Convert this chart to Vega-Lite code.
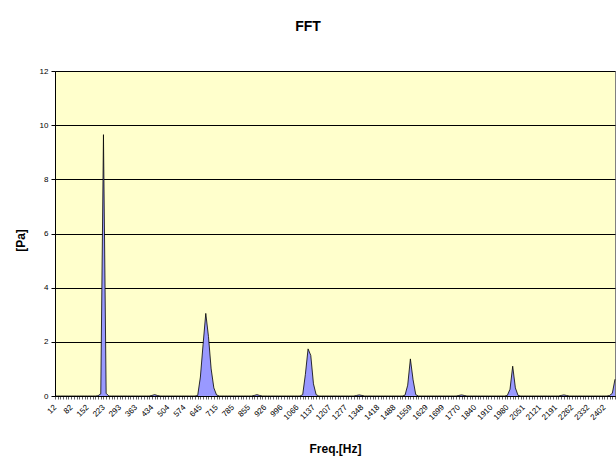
{
  "$schema": "https://vega.github.io/schema/vega-lite/v6.json",
  "autosize": {"type": "none"},
  "width": 560,
  "height": 325,
  "padding": {"left": 55, "top": 71, "right": 1, "bottom": 62},
  "background": "white",
  "config": {
    "font": "Liberation Sans",
    "view": {"fill": "#FFFFCC", "stroke": "#808080", "strokeWidth": 1}
  },
  "title": {
    "text": "FFT",
    "anchor": "middle",
    "frame": "group",
    "dx": -27,
    "offset": 33,
    "fontSize": 14,
    "fontWeight": "bold",
    "font": "Liberation Sans",
    "color": "black"
  },
  "data": {
    "values": [
      {"f":12,"p":0},{"f":23,"p":0},{"f":35,"p":0},{"f":47,"p":0},{"f":59,"p":0},{"f":70,"p":0},{"f":82,"p":0},{"f":94,"p":0},{"f":105,"p":0},{"f":117,"p":0},
      {"f":129,"p":0},{"f":141,"p":0},{"f":152,"p":0},{"f":164,"p":0},{"f":176,"p":0},{"f":188,"p":0},{"f":199,"p":0.01},{"f":211,"p":0.08},{"f":223,"p":9.65},{"f":234,"p":0.1},
      {"f":246,"p":0},{"f":258,"p":0},{"f":270,"p":0},{"f":281,"p":0},{"f":293,"p":0},{"f":305,"p":0},{"f":316,"p":0},{"f":328,"p":0},{"f":340,"p":0},{"f":352,"p":0},
      {"f":363,"p":0},{"f":375,"p":0},{"f":387,"p":0},{"f":398,"p":0},{"f":410,"p":0},{"f":422,"p":0},{"f":434,"p":0.02},{"f":445,"p":0.05},{"f":457,"p":0.02},{"f":469,"p":0},
      {"f":480,"p":0},{"f":492,"p":0},{"f":504,"p":0},{"f":516,"p":0},{"f":527,"p":0},{"f":539,"p":0},{"f":551,"p":0},{"f":563,"p":0},{"f":574,"p":0},{"f":586,"p":0},
      {"f":598,"p":0},{"f":609,"p":0},{"f":621,"p":0},{"f":633,"p":0.02},{"f":645,"p":0.7},{"f":656,"p":1.9},{"f":668,"p":3.05},{"f":680,"p":2.2},{"f":691,"p":1.0},{"f":703,"p":0.3},
      {"f":715,"p":0.04},{"f":727,"p":0},{"f":738,"p":0},{"f":750,"p":0},{"f":762,"p":0},{"f":773,"p":0},{"f":785,"p":0},{"f":797,"p":0},{"f":809,"p":0},{"f":820,"p":0},
      {"f":832,"p":0},{"f":844,"p":0},{"f":855,"p":0},{"f":867,"p":0},{"f":879,"p":0.02},{"f":891,"p":0.05},{"f":902,"p":0.02},{"f":914,"p":0},{"f":926,"p":0},{"f":938,"p":0},
      {"f":949,"p":0},{"f":961,"p":0},{"f":973,"p":0},{"f":984,"p":0},{"f":996,"p":0},{"f":1008,"p":0},{"f":1020,"p":0},{"f":1031,"p":0},{"f":1043,"p":0},{"f":1055,"p":0},
      {"f":1066,"p":0},{"f":1078,"p":0},{"f":1090,"p":0.05},{"f":1102,"p":0.8},{"f":1113,"p":1.74},{"f":1125,"p":1.5},{"f":1137,"p":0.45},{"f":1148,"p":0.05},{"f":1160,"p":0},{"f":1172,"p":0},
      {"f":1184,"p":0},{"f":1195,"p":0},{"f":1207,"p":0},{"f":1219,"p":0},{"f":1230,"p":0},{"f":1242,"p":0},{"f":1254,"p":0},{"f":1266,"p":0},{"f":1277,"p":0},{"f":1289,"p":0},
      {"f":1301,"p":0},{"f":1313,"p":0},{"f":1324,"p":0.02},{"f":1336,"p":0.04},{"f":1348,"p":0.02},{"f":1359,"p":0},{"f":1371,"p":0},{"f":1383,"p":0},{"f":1395,"p":0},{"f":1406,"p":0},
      {"f":1418,"p":0},{"f":1430,"p":0},{"f":1441,"p":0},{"f":1453,"p":0},{"f":1465,"p":0},{"f":1477,"p":0},{"f":1488,"p":0},{"f":1500,"p":0},{"f":1512,"p":0},{"f":1523,"p":0},
      {"f":1535,"p":0.03},{"f":1547,"p":0.4},{"f":1559,"p":1.37},{"f":1570,"p":0.6},{"f":1582,"p":0.05},{"f":1594,"p":0},{"f":1605,"p":0},{"f":1617,"p":0},{"f":1629,"p":0},{"f":1641,"p":0},
      {"f":1652,"p":0},{"f":1664,"p":0},{"f":1676,"p":0},{"f":1688,"p":0},{"f":1699,"p":0},{"f":1711,"p":0},{"f":1723,"p":0},{"f":1734,"p":0},{"f":1746,"p":0},{"f":1758,"p":0},
      {"f":1770,"p":0.02},{"f":1781,"p":0.04},{"f":1793,"p":0.02},{"f":1805,"p":0},{"f":1816,"p":0},{"f":1828,"p":0},{"f":1840,"p":0},{"f":1852,"p":0},{"f":1863,"p":0},{"f":1875,"p":0},
      {"f":1887,"p":0},{"f":1898,"p":0},{"f":1910,"p":0},{"f":1922,"p":0},{"f":1934,"p":0},{"f":1945,"p":0},{"f":1957,"p":0},{"f":1969,"p":0},{"f":1980,"p":0.02},{"f":1992,"p":0.25},
      {"f":2004,"p":1.1},{"f":2016,"p":0.3},{"f":2027,"p":0.02},{"f":2039,"p":0},{"f":2051,"p":0},{"f":2063,"p":0},{"f":2074,"p":0},{"f":2086,"p":0},{"f":2098,"p":0},{"f":2109,"p":0},
      {"f":2121,"p":0},{"f":2133,"p":0},{"f":2145,"p":0},{"f":2156,"p":0},{"f":2168,"p":0},{"f":2180,"p":0},{"f":2191,"p":0},{"f":2203,"p":0},{"f":2215,"p":0.02},{"f":2227,"p":0.04},
      {"f":2238,"p":0.02},{"f":2250,"p":0},{"f":2262,"p":0},{"f":2273,"p":0},{"f":2285,"p":0},{"f":2297,"p":0},{"f":2309,"p":0},{"f":2320,"p":0},{"f":2332,"p":0},{"f":2344,"p":0},
      {"f":2355,"p":0},{"f":2367,"p":0},{"f":2379,"p":0},{"f":2391,"p":0},{"f":2402,"p":0},{"f":2414,"p":0},{"f":2426,"p":0.02},{"f":2438,"p":0.1},{"f":2449,"p":0.62}
    ]
  },
  "mark": {
    "type": "area",
    "interpolate": "linear",
    "color": "#9999FF",
    "opacity": 1,
    "line": {"color": "black", "strokeWidth": 0.8}
  },
  "encoding": {
    "x": {
      "field": "f",
      "type": "ordinal",
      "sort": "ascending",
      "scale": {"type": "point", "padding": 0},
      "axis": {
        "title": "Freq.[Hz]",
        "titleFontSize": 12,
        "titleFontWeight": "bold",
        "titleColor": "black",
        "titleFont": "Liberation Sans",
        "titleY": 52,
        "titleBaseline": "middle",
        "labelAngle": -45,
        "labelAlign": "right",
        "labelBaseline": "middle",
        "labelFontSize": 8,
        "labelColor": "black",
        "labelPadding": 7,
        "labelOverlap": false,
        "labelExpr": "indexof([12,82,152,223,293,363,434,504,574,645,715,785,855,926,996,1066,1137,1207,1277,1348,1418,1488,1559,1629,1699,1770,1840,1910,1980,2051,2121,2191,2262,2332,2402], datum.value) >= 0 ? datum.value : ''",
        "ticks": true,
        "tickSize": 3,
        "tickColor": "black",
        "tickWidth": 0.6,
        "domainColor": "black",
        "domainWidth": 1,
        "grid": false
      }
    },
    "y": {
      "field": "p",
      "type": "quantitative",
      "scale": {"domain": [0, 12], "nice": false},
      "axis": {
        "title": "[Pa]",
        "titleFontSize": 12,
        "titleFontWeight": "bold",
        "titleColor": "black",
        "titleFont": "Liberation Sans",
        "titleAngle": 270,
        "titleX": -35,
        "titleY": 169,
        "titleAlign": "center",
        "titleBaseline": "middle",
        "values": [0, 2, 4, 6, 8, 10, 12],
        "labelFontSize": 8,
        "labelColor": "black",
        "labelPadding": 3,
        "tickSize": 4,
        "tickColor": "black",
        "domainColor": "black",
        "grid": true,
        "gridColor": "black",
        "gridWidth": 1,
        "gridOpacity": 1
      }
    }
  }
}
